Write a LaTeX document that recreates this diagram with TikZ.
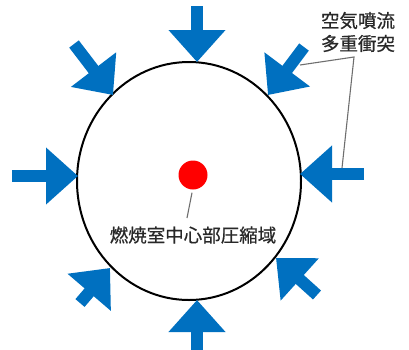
\documentclass[tikz,border=0pt]{standalone}
\usepackage{fontspec}
\newfontfamily\jp[FakeBold=0.6]{Noto Sans CJK JP}
\usetikzlibrary{arrows.meta,shapes.geometric}
\definecolor{jetblue}{RGB}{0,112,192}
\definecolor{leadgray}{RGB}{110,110,110}
\definecolor{txtgray}{RGB}{40,40,40}
\tikzset{
  jet/.style={draw=jetblue, line width=12pt, -{Triangle[length=32pt,width=55pt]}},
  leader/.style={draw=leadgray, line width=1.1pt},
  lbl/.style={font=\jp\fontsize{18.5}{23}\selectfont, text=txtgray, inner sep=0pt, align=center}
}
\begin{document}
\begin{tikzpicture}[x=1pt,y=-1pt]
\useasboundingbox (0,0) rectangle (409,349);
% chamber
\node[draw, line width=2pt, ellipse, minimum width=224pt, minimum height=238pt, inner sep=0pt] (chamber) at (189,181) {};
% jet tails and tips
\coordinate (tT) at (197,6);    \coordinate (hT) at (197,62);
\coordinate (tL) at (12,176);   \coordinate (hL) at (78,176);
\coordinate (tR) at (364,174);  \coordinate (hR) at (300,174);
\coordinate (tB) at (197,352);  \coordinate (hB) at (197,300);
\coordinate (tUL) at (74,44);   \coordinate (hUL) at (113,95);
\coordinate (tUR) at (304,47);  \coordinate (hUR) at (268,95);
\coordinate (tLL) at (80,303);  \coordinate (hLL) at (110,268);
\coordinate (tLR) at (317,295); \coordinate (hLR) at (276,258);
\draw[jet] (tT) -- (hT);
\draw[jet] (tL) -- (hL);
\draw[jet] (tR) -- (hR);
\draw[jet] (tB) -- (hB);
\draw[jet] (tUL) -- (hUL);
\draw[jet] (tUR) -- (hUR);
\draw[jet] (tLL) -- (hLL);
\draw[jet] (tLR) -- (hLR);
% label top right
\node[lbl] (jetlbl) at (358,32) {空気噴流\\多重衝突};
\coordinate (la) at (300,65);
\coordinate (lk) at (354,57);
\coordinate (lb) at (342,168);
\draw[leader] (la) -- (lk) -- (lb);
% center
\node[circle, fill=red, minimum size=29pt, inner sep=0pt] (core) at (193,175) {};
\node[lbl] (corelbl) at (193,235) {燃焼室中心部圧縮域};
\coordinate (cl) at (187,218);
\draw[leader] ([shift={(-1pt,-3pt)}]core.south) -- (cl);
\end{tikzpicture}
\end{document}
